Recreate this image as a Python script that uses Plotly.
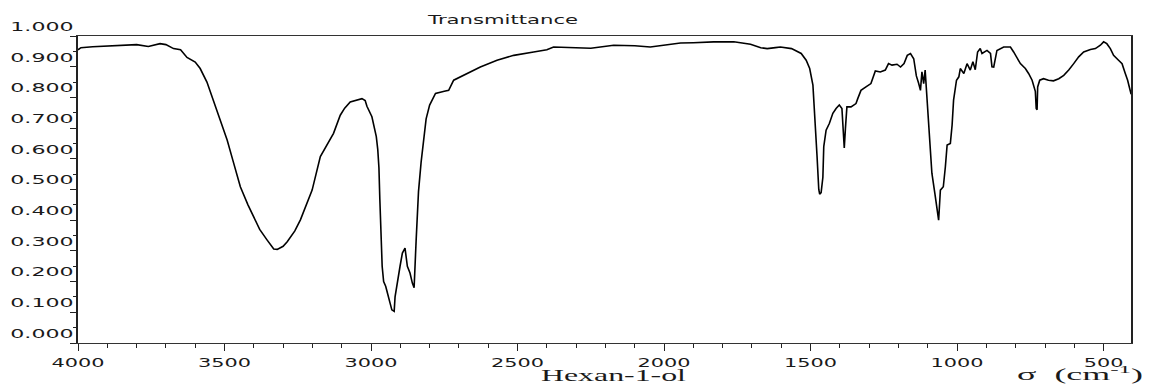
import plotly.graph_objects as go

# IR spectrum of Hexan-1-ol
wavenumber = [
    4000, 3990, 3950, 3900, 3850, 3800, 3760, 3720, 3700, 3674, 3650, 3628, 3600, 3583,
    3560, 3538, 3515, 3491, 3470, 3446, 3420, 3401, 3380, 3355, 3332, 3320, 3300, 3286,
    3260, 3241, 3220, 3201, 3173, 3150, 3128, 3105, 3090, 3071, 3050, 3031, 3020, 3014,
    2997, 2982, 2977, 2973, 2970, 2966, 2962, 2957, 2950, 2946, 2941, 2935, 2929, 2921,
    2918, 2909, 2901, 2893, 2884, 2876, 2867, 2859, 2853, 2846, 2838, 2829, 2821, 2812,
    2800, 2780, 2750, 2735, 2718, 2700, 2672, 2627, 2570, 2513, 2445, 2400, 2377, 2286,
    2250, 2172, 2100, 2047, 2000, 1944, 1900, 1831, 1762, 1740, 1705, 1670, 1648, 1620,
    1603, 1565, 1532, 1515, 1503, 1492, 1486, 1478, 1472, 1469, 1464, 1458, 1455, 1447,
    1436, 1424, 1413, 1402, 1393, 1390, 1385, 1381, 1376, 1362, 1345, 1339, 1328, 1311,
    1294, 1279, 1262, 1245, 1234, 1222, 1205, 1193, 1181, 1170, 1159, 1148, 1139, 1131,
    1125, 1120, 1114, 1109, 1103, 1094, 1086, 1076, 1068, 1063, 1057, 1047, 1040, 1034,
    1023, 1017, 1012, 1002, 994, 989, 977, 966, 955, 946, 938, 930, 921, 915,
    898, 886, 881, 875, 864, 852, 841, 835, 818, 807, 795, 784, 767, 756,
    744, 736, 733, 730, 727, 725, 718, 705, 688, 671, 653, 636, 619, 602,
    585, 568, 545, 528, 511, 500, 489, 477, 466, 449, 437, 426, 418, 411, 406,
]
transmittance = [
    0.955, 0.962, 0.965, 0.968, 0.970, 0.972, 0.966, 0.975, 0.972, 0.959, 0.955, 0.930, 0.915, 0.894,
    0.850, 0.791, 0.730, 0.661, 0.590, 0.509, 0.450, 0.412, 0.370, 0.336, 0.306, 0.305, 0.315, 0.330,
    0.365, 0.401, 0.450, 0.498, 0.607, 0.645, 0.683, 0.742, 0.765, 0.785, 0.792, 0.796, 0.790, 0.771,
    0.737, 0.672, 0.630, 0.570, 0.470, 0.385, 0.250, 0.200, 0.185, 0.170, 0.155, 0.130, 0.108, 0.103,
    0.150, 0.210, 0.250, 0.293, 0.309, 0.250, 0.228, 0.195, 0.180, 0.336, 0.493, 0.590, 0.650, 0.730,
    0.775, 0.813, 0.820, 0.823, 0.856, 0.865, 0.878, 0.899, 0.921, 0.937, 0.948, 0.955, 0.964, 0.962,
    0.960, 0.970, 0.968, 0.964, 0.970, 0.977, 0.978, 0.981, 0.981, 0.978, 0.973, 0.962, 0.959, 0.962,
    0.964, 0.959, 0.943, 0.921, 0.894, 0.840, 0.750, 0.610, 0.500, 0.485, 0.490, 0.540, 0.640, 0.693,
    0.715, 0.748, 0.764, 0.775, 0.764, 0.704, 0.635, 0.700, 0.769, 0.769, 0.780, 0.796, 0.823, 0.834,
    0.845, 0.886, 0.883, 0.889, 0.910, 0.905, 0.908, 0.899, 0.910, 0.937, 0.943, 0.926, 0.870, 0.845,
    0.823, 0.883, 0.845, 0.889, 0.800, 0.672, 0.553, 0.488, 0.423, 0.400, 0.498, 0.509, 0.574, 0.645,
    0.650, 0.710, 0.791, 0.856, 0.867, 0.894, 0.878, 0.910, 0.889, 0.916, 0.890, 0.948, 0.959, 0.943,
    0.953, 0.943, 0.900, 0.899, 0.953, 0.959, 0.964, 0.964, 0.964, 0.948, 0.926, 0.910, 0.894, 0.878,
    0.856, 0.834, 0.820, 0.764, 0.760, 0.834, 0.856, 0.861, 0.856, 0.854, 0.861, 0.872, 0.889, 0.910,
    0.932, 0.948, 0.956, 0.959, 0.970, 0.981, 0.975, 0.959, 0.937, 0.921, 0.910, 0.878, 0.856, 0.829, 0.810,
]

x_tickvals = [4000, 3500, 3000, 2500, 2000, 1500, 1000, 500]
x_ticktext = ["4000", "3500", "3000", "2500", "2000", "1500", "1000", "500"]
y_tickvals = [0.0, 0.1, 0.2, 0.3, 0.4, 0.5, 0.6, 0.7, 0.8, 0.9, 1.0]
y_ticktext = ["0.000", "0.100", "0.200", "0.300", "0.400", "0.500",
              "0.600", "0.700", "0.800", "0.900", "1.000"]

title_text = "Transmittance"
compound_text = "Hexan-1-ol"
unit_text = "σ  (cm<sup>-1</sup>)"

fig = go.Figure()
fig.add_trace(go.Scatter(
    x=wavenumber, y=transmittance, mode="lines",
    line=dict(color="black", width=1.6), showlegend=False, hoverinfo="skip",
))

tick_font = dict(family="DejaVu Sans", size=13, color="#1a1a1a")

fig.update_layout(
    width=1149, height=387,
    margin=dict(l=78, r=18, t=36, b=44),
    paper_bgcolor="white", plot_bgcolor="white",
    xaxis=dict(
        range=[4000, 406.5], showgrid=False, zeroline=False,
        showline=True, linecolor="#333", linewidth=1.3, mirror=True,
        ticks="outside", ticklen=7, tickwidth=1.2, tickcolor="#222",
        tickvals=x_tickvals, ticktext=x_ticktext, tickfont=tick_font,
        minor=dict(dtick=100, tick0=0, ticks="outside", ticklen=4, tickwidth=1.2, tickcolor="#222"),
    ),
    yaxis=dict(
        range=[0, 1.0], showgrid=False, zeroline=False,
        showline=True, linecolor="#222", linewidth=1.6, mirror=True,
        ticks="outside", ticklen=6, tickwidth=1.2, tickcolor="#222",
        tickvals=y_tickvals, ticktext=y_ticktext, tickfont=tick_font,
        ticklabelposition="outside top",
        minor=dict(dtick=0.05, tick0=0, ticks="outside", ticklen=3, tickwidth=1.2, tickcolor="#222"),
    ),
    annotations=[
        dict(text=title_text, xref="paper", yref="paper", x=0.4036, y=1.055,
             xanchor="center", yanchor="middle", showarrow=False,
             font=dict(family="DejaVu Sans", size=13, color="#1a1a1a")),
        dict(text=compound_text, xref="paper", yref="paper", x=0.509, y=-0.14,
             xanchor="center", yanchor="bottom", showarrow=False,
             font=dict(family="Liberation Serif", size=16, color="#1a1a1a")),
        dict(text=unit_text, xref="paper", yref="paper", x=0.952, y=-0.14,
             xanchor="center", yanchor="bottom", showarrow=False,
             font=dict(family="Liberation Serif", size=16, color="#1a1a1a")),
    ],
)

# The reference's lettering is drawn horizontally stretched; widen texts to match.
stretch_js = """
(function(){
  var gd = document.getElementById('{plot_id}');
  function widen(){
    var rules = [['.xtick text', 1.6], ['.ytick text', 1.7]];
    rules.forEach(function(r){
      gd.querySelectorAll(r[0]).forEach(function(t){
        if (t.getAttribute('textLength')) return;
        var w = t.getComputedTextLength();
        if (w > 0) { t.setAttribute('lengthAdjust', 'spacingAndGlyphs'); t.setAttribute('textLength', (w * r[1]).toFixed(1)); }
      });
    });
    var targets = {'Transmittance': 150, 'Hexan-1-ol': 145};
    gd.querySelectorAll('.annotation-text').forEach(function(t){
      if (t.getAttribute('textLength')) return;
      var s = t.textContent, L = targets[s];
      if (!L && s.indexOf('\u03c3') === 0) L = 126;
      if (L) { t.setAttribute('lengthAdjust', 'spacingAndGlyphs'); t.setAttribute('textLength', L); }
    });
  }
  setTimeout(widen, 30);
})();
"""

fig.write_html("out.html", post_script=stretch_js)
